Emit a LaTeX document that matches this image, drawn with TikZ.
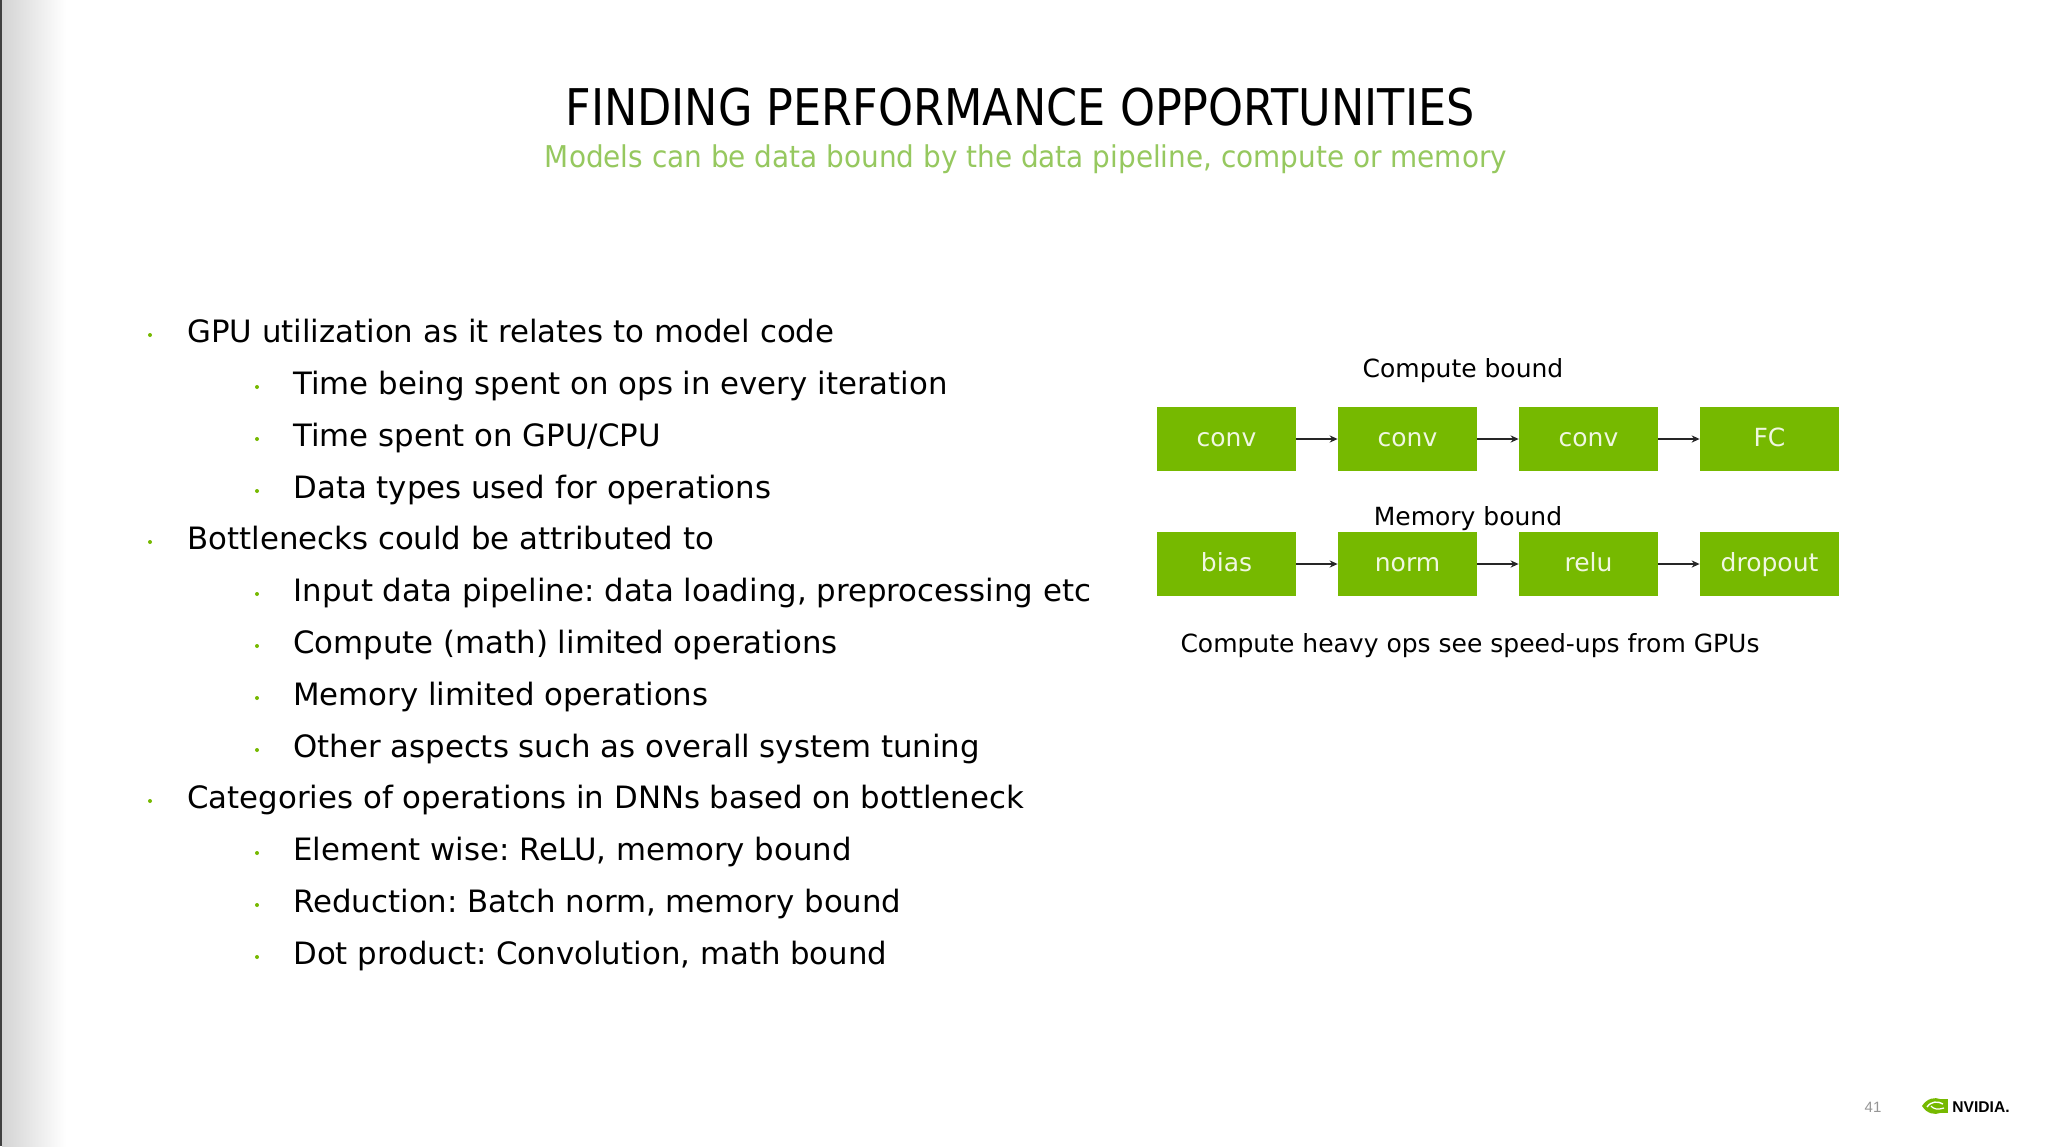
\documentclass[tikz,border=0pt]{standalone}
\usepackage{fontspec}
\setmainfont{DejaVu Sans}
\newfontfamily\titlefont[FakeStretch=0.88]{DejaVu Sans}
\newfontfamily\subfont[FakeStretch=0.93]{DejaVu Sans}
\newfontfamily\logofont{Liberation Sans}
\usetikzlibrary{arrows.meta}
\definecolor{nvgreen}{RGB}{118,185,0}
\definecolor{subgreen}{RGB}{150,200,95}
\definecolor{boxtxt}{RGB}{240,247,225}
\definecolor{pagegray}{RGB}{150,150,150}
\frenchspacing
\begin{document}
\begin{tikzpicture}[x=0.5pt,y=-0.5pt,
  body/.style={inner sep=0pt, anchor=base west, font=\fontsize{15.4pt}{18pt}\selectfont, text=black},
  bdot/.style={circle, fill=nvgreen, inner sep=0pt, minimum size=2pt},
  label/.style={inner sep=0pt, anchor=base, font=\fontsize{12.5pt}{15pt}\selectfont, text=black},
  opbox/.style={fill=nvgreen, minimum width=69.5pt, minimum height=32pt, inner sep=0pt,
    text height=9pt, text depth=2pt, text=boxtxt, font=\fontsize{12.5pt}{15pt}\selectfont},
  arr/.style={-{Stealth[length=4pt,width=3.6pt]}, line width=1pt, black!85}
]
\useasboundingbox (0,0) rectangle (2048,1146);
\fill[white] (0,0) rectangle (2048,1146);
% left shadow
\shade[left color=black!17, right color=white] (2,0) rectangle (66,1146);
\fill[black!75] (0,0) rectangle (2,1146);

% title
\node[inner sep=0pt, anchor=base, font=\titlefont\fontsize{25.3pt}{30pt}\selectfont, text=black] (title) at (1020,125) {FINDING PERFORMANCE OPPORTUNITIES};
\node[inner sep=0pt, anchor=base, font=\subfont\fontsize{15pt}{18pt}\selectfont, text=subgreen] (sub) at (1026,167) {Models can be data bound by the data pipeline, compute or memory};

% bullets
\node[bdot] (d1) at (150,335) {};
\node[body] (t1) at (187,342) {GPU utilization as it relates to model code};
\node[bdot] (d2) at (257,387) {};
\node[body] (t2) at (293,394) {Time being spent on ops in every iteration};
\node[bdot] (d3) at (257,439) {};
\node[body] (t3) at (293,446) {Time spent on GPU/CPU};
\node[bdot] (d4) at (257,491) {};
\node[body] (t4) at (293,498) {Data types used for operations};
\node[bdot] (d5) at (150,542) {};
\node[body] (t5) at (187,549) {Bottlenecks could be attributed to};
\node[bdot] (d6) at (257,594) {};
\node[body] (t6) at (293,601) {Input data pipeline: data loading, preprocessing etc};
\node[bdot] (d7) at (257,646) {};
\node[body] (t7) at (293,653) {Compute (math) limited operations};
\node[bdot] (d8) at (257,698) {};
\node[body] (t8) at (293,705) {Memory limited operations};
\node[bdot] (d9) at (257,750) {};
\node[body] (t9) at (293,757) {Other aspects such as overall system tuning};
\node[bdot] (d10) at (150,801) {};
\node[body] (t10) at (187,808) {Categories of operations in DNNs based on bottleneck};
\node[bdot] (d11) at (257,853) {};
\node[body] (t11) at (293,860) {Element wise: ReLU, memory bound};
\node[bdot] (d12) at (257,905) {};
\node[body] (t12) at (293,912) {Reduction: Batch norm, memory bound};
\node[bdot] (d13) at (257,957) {};
\node[body] (t13) at (293,964) {Dot product: Convolution, math bound};

% diagram
\node[label] (cb) at (1463,377) {Compute bound};
\node[opbox] (a1) at (1226.5,439) {conv};
\node[opbox] (a2) at (1407.5,439) {conv};
\node[opbox] (a3) at (1588.5,439) {conv};
\node[opbox] (a4) at (1769.5,439) {FC};
\draw[arr] (a1.east) -- (a2.west);
\draw[arr] (a2.east) -- (a3.west);
\draw[arr] (a3.east) -- (a4.west);

\node[label] (mb) at (1468,525) {Memory bound};
\node[opbox] (m1) at (1226.5,564) {bias};
\node[opbox] (m2) at (1407.5,564) {norm};
\node[opbox] (m3) at (1588.5,564) {relu};
\node[opbox] (m4) at (1769.5,564) {dropout};
\draw[arr] (m1.east) -- (m2.west);
\draw[arr] (m2.east) -- (m3.west);
\draw[arr] (m3.east) -- (m4.west);

\node[label] (note) at (1470,652) {Compute heavy ops see speed-ups from GPUs};

% footer
\node[inner sep=0pt, anchor=base, font=\logofont\fontsize{7.5pt}{9pt}\selectfont, text=pagegray] (pg) at (1873,1112) {41};
\fill[nvgreen] (1933,1099) rectangle (1948,1113);
\fill[nvgreen] (1922,1106) .. controls (1927,1098) and (1935,1097) .. (1940,1099) -- (1940,1113) .. controls (1935,1115) and (1927,1114) .. (1922,1106) -- cycle;
\draw[white, line width=0.7pt] (1927,1107) .. controls (1931,1101) and (1938,1101) .. (1943,1104);
\draw[white, line width=0.6pt] (1931,1106) .. controls (1933,1109) and (1938,1110) .. (1944,1108);
\node[inner sep=0pt, anchor=base west, font=\logofont\bfseries\fontsize{7.8pt}{9pt}\selectfont, text=black] (nv) at (1952,1112) {NVIDIA.};
\end{tikzpicture}
\end{document}
